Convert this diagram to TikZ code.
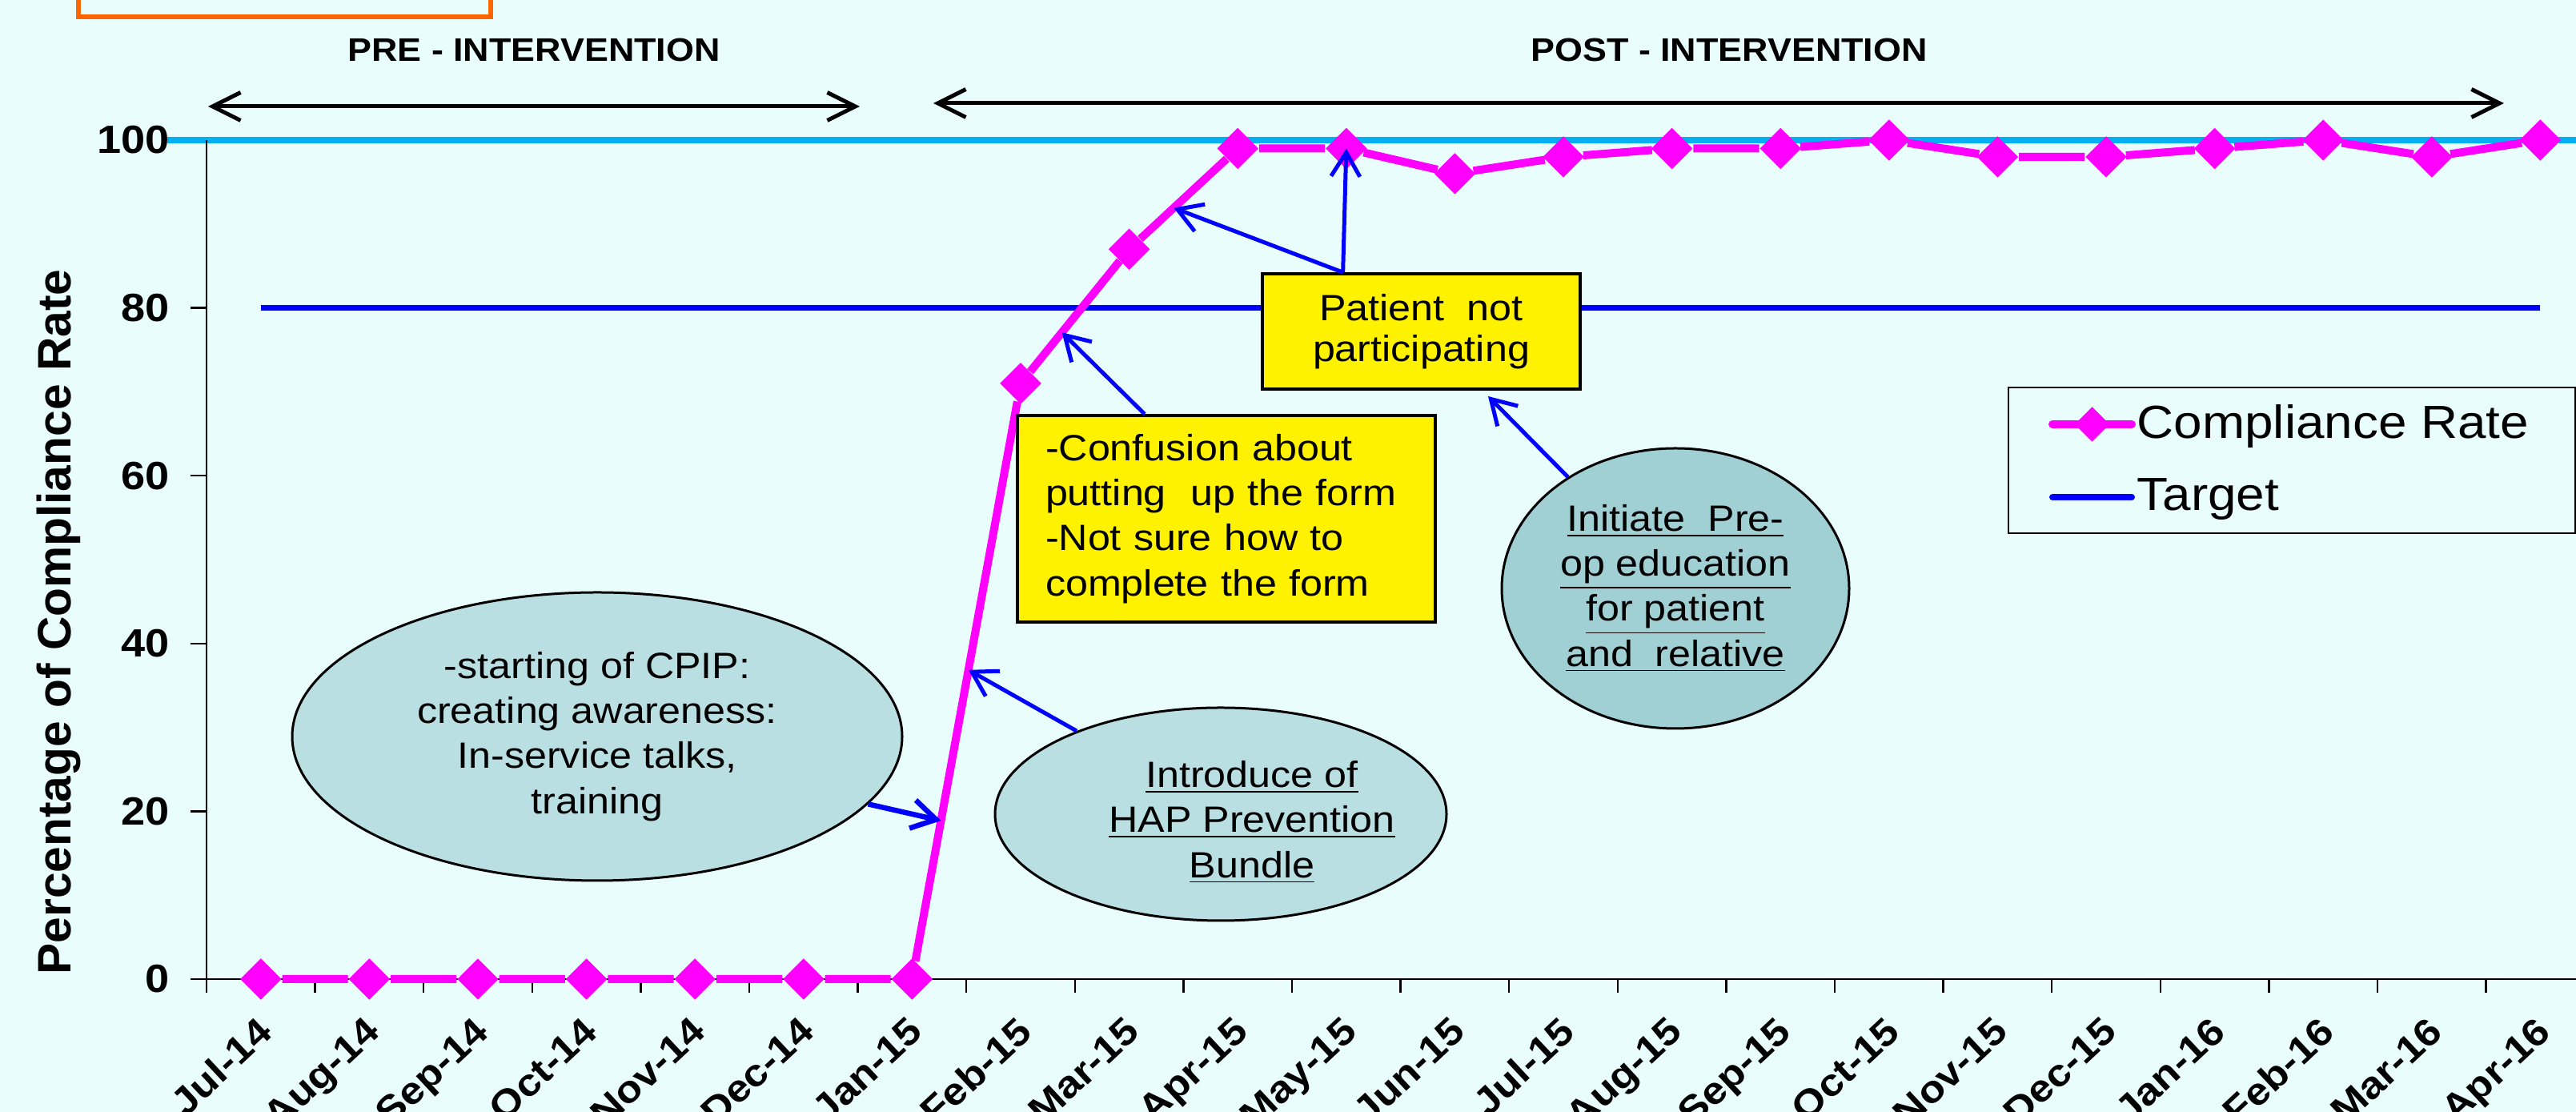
\documentclass[tikz,border=0pt]{standalone}
\usepackage{fontspec}
\setmainfont{Liberation Sans}[FakeStretch=1.1]
\newfontfamily\plainsans{Liberation Sans}
\usetikzlibrary{shapes.geometric,arrows.meta}

\definecolor{chartbg}{RGB}{233,254,252}
\definecolor{bannerorange}{RGB}{255,102,0}
\definecolor{ratemag}{RGB}{255,0,255}
\definecolor{skyline}{RGB}{0,176,240}
\definecolor{targetblue}{RGB}{0,0,255}
\definecolor{paleteal}{RGB}{185,223,226}
\definecolor{deepteal}{RGB}{160,208,212}

\begin{document}
\begin{tikzpicture}[
    ratept/.style={diamond, fill=ratemag, inner sep=0pt, minimum width=5.2mm, minimum height=5.2mm},
    rateline/.style={draw=ratemag, line width=1mm},
    targetline/.style={draw=targetblue, line width=0.7mm},
    axisline/.style={draw=black, line width=0.25mm},
    ticktext/.style={font=\bfseries\fontsize{14}{14}\selectfont, anchor=east, inner sep=0pt},
    monthtext/.style={font=\bfseries\fontsize{13.5}{14}\selectfont, rotate=43, anchor=north east, inner sep=0pt},
    span/.style={line width=0.5mm, {Straight Barb[length=3.5mm,width=3.5mm]}-{Straight Barb[length=3.5mm,width=3.5mm]}},
    spantext/.style={font=\bfseries\fontsize{11.6}{12}\selectfont},
    bubble/.style={ellipse, draw=black, line width=0.3mm, fill=paleteal, align=center, inner sep=0pt,
      font=\fontsize{13}{16}\selectfont},
    bubbletext/.style={align=center, inner sep=0pt, font=\fontsize{13}{16}\selectfont},
    notebox/.style={rectangle, draw=black, line width=0.35mm, fill=yellow, inner sep=0pt,
      font=\fontsize{13}{16}\selectfont},
    callout/.style={draw=targetblue, line width=0.5mm, -{Straight Barb[length=3mm,width=3.6mm]}},
    legendtext/.style={font=\fontsize{16.5}{18}\selectfont, anchor=base west, inner sep=0pt}
  ]
  \useasboundingbox (0,0) rectangle (32.18,13.89);
  \clip (0,0) rectangle (32.18,13.89);
  \fill[chartbg] (0,0) rectangle (32.18,13.89);

  % header box, cut by the top edge
  \node[draw=bannerorange, line width=0.6mm, minimum width=5.15cm, minimum height=1cm] (banner) at (3.555,14.18) {};

  % intervention periods
  \coordinate (preL) at (2.60,12.56);
  \coordinate (preR) at (10.74,12.56);
  \coordinate (postL) at (11.66,12.60);
  \coordinate (postR) at (31.28,12.60);
  \draw[span] (preL) -- (preR);
  \draw[span] (postL) -- (postR);
  \node[spantext] (pre) at (6.67,13.27) {PRE - INTERVENTION};
  \node[spantext] (post) at (21.6,13.27) {POST - INTERVENTION};

  \node[font=\plainsans\bfseries\fontsize{16.7}{18}\selectfont, rotate=90] (ylab) at (0.73,6.12) {Percentage of Compliance Rate};

  \begin{scope}[shift={(3.258,1.66)}, x=1.356cm, y=0.1048cm]
    % line at 100
    \coordinate (topL) at (-0.862,100);
    \coordinate (topR) at (21.42,100);
    \draw[draw=skyline, line width=0.8mm] (topL) -- (topR);

    % axes
    \coordinate (yaxB) at (-0.5,0);
    \coordinate (yaxT) at (-0.5,100);
    \coordinate (xaxL) at (-0.618,0);
    \coordinate (xaxR) at (21.42,0);
    \draw[axisline] (yaxB) -- (yaxT);
    \draw[axisline] (xaxL) -- (xaxR);
    \draw[axisline] (-0.648,0) -- (-0.5,0) (-0.648,20) -- (-0.5,20) (-0.648,40) -- (-0.5,40)
      (-0.648,60) -- (-0.5,60) (-0.648,80) -- (-0.5,80);
    \draw[axisline] (-0.5,0) -- (-0.5,-1.62) (0.5,0) -- (0.5,-1.62) (1.5,0) -- (1.5,-1.62)
      (2.5,0) -- (2.5,-1.62) (3.5,0) -- (3.5,-1.62) (4.5,0) -- (4.5,-1.62) (5.5,0) -- (5.5,-1.62)
      (6.5,0) -- (6.5,-1.62) (7.5,0) -- (7.5,-1.62) (8.5,0) -- (8.5,-1.62) (9.5,0) -- (9.5,-1.62)
      (10.5,0) -- (10.5,-1.62) (11.5,0) -- (11.5,-1.62) (12.5,0) -- (12.5,-1.62) (13.5,0) -- (13.5,-1.62)
      (14.5,0) -- (14.5,-1.62) (15.5,0) -- (15.5,-1.62) (16.5,0) -- (16.5,-1.62) (17.5,0) -- (17.5,-1.62)
      (18.5,0) -- (18.5,-1.62) (19.5,0) -- (19.5,-1.62) (20.5,0) -- (20.5,-1.62);

    \node[ticktext] (v0) at (-0.839,0) {0};
    \node[ticktext] (v20) at (-0.839,20) {20};
    \node[ticktext] (v40) at (-0.839,40) {40};
    \node[ticktext] (v60) at (-0.839,60) {60};
    \node[ticktext] (v80) at (-0.839,80) {80};
    \node[ticktext] (v100) at (-0.839,100) {100};

    \node[monthtext] (m0) at (-0.05,-4.2) {Jul-14};
    \node[monthtext] (m1) at (0.95,-4.2) {Aug-14};
    \node[monthtext] (m2) at (1.95,-4.2) {Sep-14};
    \node[monthtext] (m3) at (2.95,-4.2) {Oct-14};
    \node[monthtext] (m4) at (3.95,-4.2) {Nov-14};
    \node[monthtext] (m5) at (4.95,-4.2) {Dec-14};
    \node[monthtext] (m6) at (5.95,-4.2) {Jan-15};
    \node[monthtext] (m7) at (6.95,-4.2) {Feb-15};
    \node[monthtext] (m8) at (7.95,-4.2) {Mar-15};
    \node[monthtext] (m9) at (8.95,-4.2) {Apr-15};
    \node[monthtext] (m10) at (9.95,-4.2) {May-15};
    \node[monthtext] (m11) at (10.95,-4.2) {Jun-15};
    \node[monthtext] (m12) at (11.95,-4.2) {Jul-15};
    \node[monthtext] (m13) at (12.95,-4.2) {Aug-15};
    \node[monthtext] (m14) at (13.95,-4.2) {Sep-15};
    \node[monthtext] (m15) at (14.95,-4.2) {Oct-15};
    \node[monthtext] (m16) at (15.95,-4.2) {Nov-15};
    \node[monthtext] (m17) at (16.95,-4.2) {Dec-15};
    \node[monthtext] (m18) at (17.95,-4.2) {Jan-16};
    \node[monthtext] (m19) at (18.95,-4.2) {Feb-16};
    \node[monthtext] (m20) at (19.95,-4.2) {Mar-16};
    \node[monthtext] (m21) at (20.95,-4.2) {Apr-16};

    % target
    \coordinate (tg0) at (0,80);
    \coordinate (tg21) at (21,80);
    \draw[targetline] (tg0) -- (tg21);

    % compliance rate
    \path
      (0,0) node[ratept] (p0) {}
      (1,0) node[ratept] (p1) {}
      (2,0) node[ratept] (p2) {}
      (3,0) node[ratept] (p3) {}
      (4,0) node[ratept] (p4) {}
      (5,0) node[ratept] (p5) {}
      (6,0) node[ratept] (p6) {}
      (7,71) node[ratept] (p7) {}
      (8,87) node[ratept] (p8) {}
      (9,99) node[ratept] (p9) {}
      (10,99) node[ratept] (p10) {}
      (11,96) node[ratept] (p11) {}
      (12,98) node[ratept] (p12) {}
      (13,99) node[ratept] (p13) {}
      (14,99) node[ratept] (p14) {}
      (15,100) node[ratept] (p15) {}
      (16,98) node[ratept] (p16) {}
      (17,98) node[ratept] (p17) {}
      (18,99) node[ratept] (p18) {}
      (19,100) node[ratept] (p19) {}
      (20,98) node[ratept] (p20) {}
      (21,100) node[ratept] (p21) {};
    \draw[rateline] (p0) -- (p1) -- (p2) -- (p3) -- (p4) -- (p5) -- (p6) -- (p7) -- (p8) -- (p9)
      -- (p10) -- (p11) -- (p12) -- (p13) -- (p14) -- (p15) -- (p16) -- (p17) -- (p18) -- (p19)
      -- (p20) -- (p21);
  \end{scope}

  % notes
  \node[bubble, minimum width=7.62cm, minimum height=3.6cm] (cpip) at (7.46,4.69)
    {-starting of CPIP:\\creating awareness:\\In-service talks,\\training};
  \node[bubble, minimum width=5.64cm, minimum height=2.66cm] (hap) at (15.25,3.72) {};
  \node[bubbletext] (haptext) at (15.64,3.62)
    {\underline{Introduce of}\\\underline{HAP Prevention}\\\underline{Bundle}};
  \node[bubble, fill=deepteal, minimum width=4.34cm, minimum height=3.5cm] (initiate) at (20.93,6.54)
    {\underline{Initiate\ \ Pre-}\\\underline{op education}\\\underline{for patient}\\\underline{and\ \ relative}};
  \node[notebox, align=center, minimum width=3.97cm, minimum height=1.44cm,
    font=\fontsize{13}{14.5}\selectfont] (patient) at (17.755,9.75) {Patient\ \ not\\participating};
  \node[notebox, align=left, text width=4.52cm, inner xsep=0.35cm, minimum height=2.58cm] (confusion) at (15.32,7.41)
    {-Confusion about\\putting\ \ up the form\\-Not sure how to\\complete the form};

  \path (p6.center) -- (p7.center) coordinate[pos=0.266] (cpiptip) coordinate[pos=0.519] (haptip);
  \path (p7.center) -- (p8.center) coordinate[pos=0.38] (confusetip);
  \path (p8.center) -- (p9.center) coordinate[pos=0.41] (patienttip);
  \coordinate (initiatetip) at (18.59,8.94);

  \draw[callout, line width=0.65mm] (cpip.-14) -- (cpiptip);
  \draw[callout] (hap.150) -- (haptip);
  \draw[callout] (confusion.128) -- (confusetip);
  \draw[callout] (patient.143) -- (patienttip);
  \draw[callout] (patient.143) -- (p10.center);
  \draw[callout] (initiate.134) -- (initiatetip);

  % legend
  \node[draw=black, line width=0.2mm, minimum width=7.08cm, minimum height=1.82cm] (legend) at (28.63,8.14) {};
  \coordinate (lgrateL) at (25.64,8.59);
  \coordinate (lgrateR) at (26.63,8.59);
  \coordinate (lgtgtL) at (25.64,7.68);
  \coordinate (lgtgtR) at (26.63,7.68);
  \draw[rateline, line cap=round] (lgrateL) -- (lgrateR);
  \node[ratept, minimum width=4.4mm, minimum height=4.4mm] (lgratept) at (26.135,8.59) {};
  \draw[targetline, line width=0.8mm, line cap=round] (lgtgtL) -- (lgtgtR);
  \node[legendtext] (lgrate) at (26.69,8.41) {Compliance Rate};
  \node[legendtext] (lgtgt) at (26.69,7.51) {Target};
\end{tikzpicture}
\end{document}
